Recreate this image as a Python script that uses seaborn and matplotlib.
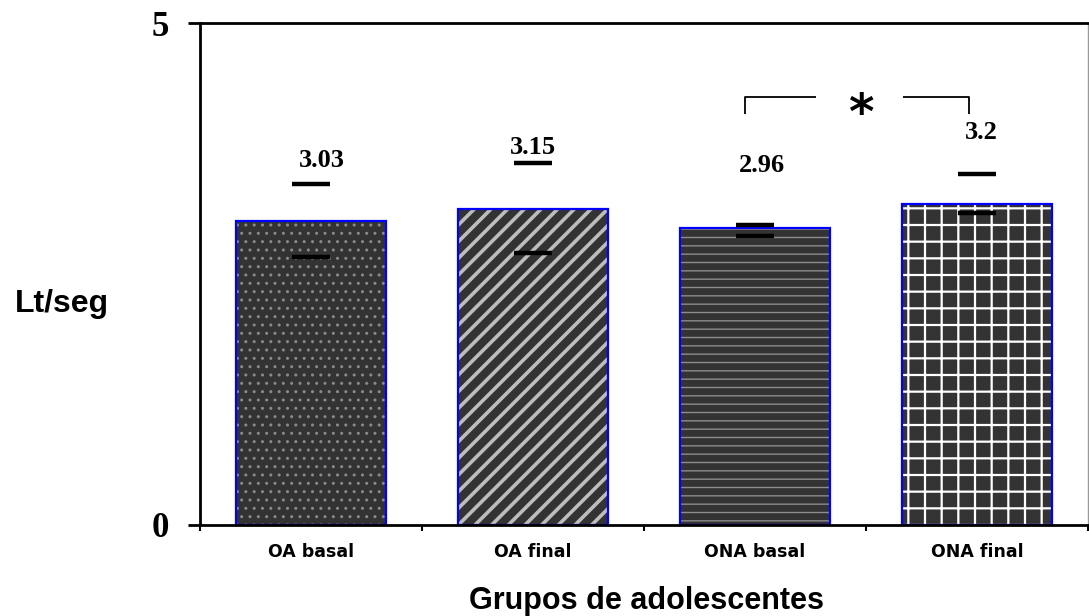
import numpy as np
import pandas as pd
import matplotlib
matplotlib.use("Agg")
import matplotlib.pyplot as plt
import seaborn as sns

# ---- data ----
categories = ["OA basal", "OA final", "ONA basal", "ONA final"]
values = [3.03, 3.15, 2.96, 3.20]
err_low = [0.36, 0.44, 0.08, 0.09]
err_high = [0.37, 0.46, 0.03, 0.30]
value_labels = ["3.03", "3.15", "2.96", "3.2"]
y_ticks = [0, 5]
y_tick_labels = ["0", "5"]

# ---- layout / style (not data) ----
label_pos = [(0.05, 3.63), (1.0, 3.76), (2.03, 3.58), (3.02, 3.91)]
hatches = ["..", "//", "--", "+"]
hatch_colors = ["#8a8a8a", "#bdbdbd", "#8c8c8c", "#ffffff"]
hatch_lws = [1.0, 2.6, 1.0, 1.6]
FILL = "#333333"

sns.set_theme(style="white")
plt.rcParams["font.family"] = ["Liberation Sans", "DejaVu Sans"]
for k in ["text.color", "axes.labelcolor", "xtick.color", "ytick.color"]:
    plt.rcParams[k] = "black"

fig = plt.figure(figsize=(10.89, 6.16), dpi=100)
ax = fig.add_axes([200 / 1089, 91.5 / 616, 888 / 1089, 501.2 / 616])

df = pd.DataFrame({"grupo": categories, "valor": values})

# hatched fill layer
sns.barplot(data=df, x="grupo", y="valor", color=FILL, saturation=1,
            width=0.68, errorbar=None, linewidth=0, ax=ax)
for p, h, hc, hl in zip(ax.patches, hatches, hatch_colors, hatch_lws):
    p.set_edgecolor(hc)
    p.set_linewidth(0)
    p.set_hatch(h)
    try:
        p.set_hatchcolor(hc)
    except AttributeError:
        pass
    try:
        p.set_hatch_linewidth(hl)
    except AttributeError:
        plt.rcParams["hatch.linewidth"] = 1.4

# blue outline layer
n_fill = len(ax.patches)
sns.barplot(data=df, x="grupo", y="valor", color="#0000ff", saturation=1,
            width=0.68, errorbar=None, fill=False, linewidth=1.6, ax=ax)
for p in ax.patches[n_fill:]:
    p.set_facecolor("none")
    p.set_edgecolor("#0000ff")

# error bars: caps only
xpos = np.arange(len(categories))
ax.errorbar(xpos, values, yerr=[err_low, err_high], fmt="none",
            ecolor="black", elinewidth=0, capsize=14, capthick=3.2, zorder=5)

# value labels
for (lx, ly), txt in zip(label_pos, value_labels):
    ax.text(lx, ly, txt, ha="center", va="center", fontsize=19,
            fontweight="bold", family="Liberation Serif", color="black")

# significance bracket
bl, br, by, bb = 1.955, 2.966, 4.265, 4.095
ax.plot([bl, bl, 2.275], [bb, by, by], color="black", lw=1.3, solid_capstyle="butt")
ax.plot([2.667, br, br], [by, by, bb], color="black", lw=1.3, solid_capstyle="butt")
ax.text(2.48, 4.09, "*", ha="center", va="center", fontsize=35,
        fontweight="bold", family="DejaVu Sans", color="black")

# axes
ax.set_xlim(-0.5, 3.5)
ax.set_ylim(0, 5)
ax.set_yticks(y_ticks)
ax.set_yticklabels(y_tick_labels, fontsize=25, fontweight="bold",
                   family="Liberation Serif")
ax.set_xticks(np.arange(-0.5, len(categories), 1.0))
ax.set_xticklabels([])
ax.set_xticks(xpos, minor=True)
ax.set_xticklabels(categories, minor=True, fontsize=12.5, fontweight="bold",
                   family="DejaVu Sans")
ax.tick_params(axis="x", which="major", direction="out", length=4, width=1.5,
               color="black", bottom=True)
ax.tick_params(axis="x", which="minor", length=0, pad=13, bottom=True)
ax.tick_params(axis="y", direction="out", length=8.6, width=2, color="black",
               pad=14, left=True)

for s in ["left", "bottom", "top"]:
    ax.spines[s].set_color("black")
    ax.spines[s].set_linewidth(2)
ax.spines["right"].set_color("#999999")
ax.spines["right"].set_linewidth(1)

ax.set_ylabel("Lt/seg", rotation=0, fontsize=23, fontweight="bold",
              ha="center", va="center", color="black")
ax.yaxis.set_label_coords(-0.1554, 0.44)
ax.set_xlabel("Grupos de adolescentes", fontsize=22, fontweight="bold",
              ha="center", va="center", color="black")
ax.xaxis.set_label_coords(0.503, -0.1526)
ax.grid(False)

fig.savefig("out.png", dpi=100)
